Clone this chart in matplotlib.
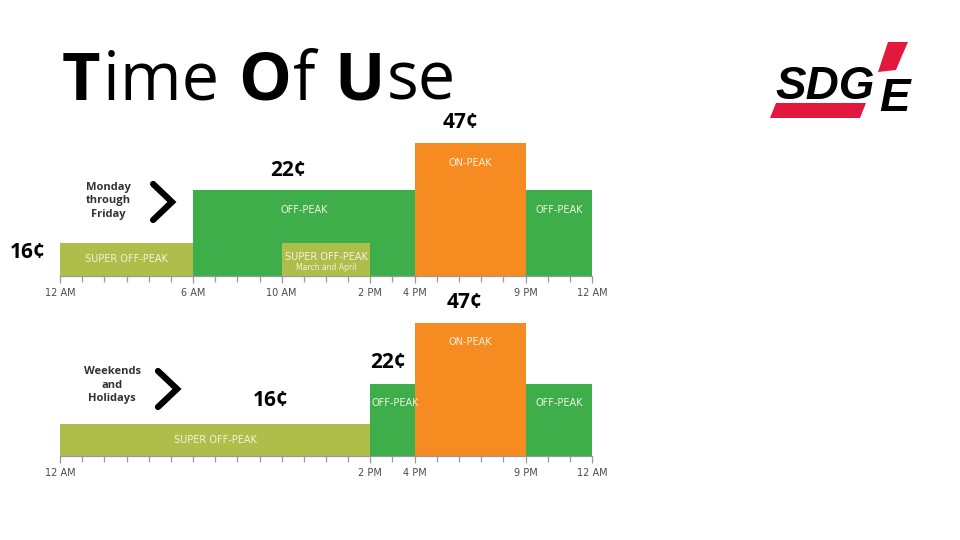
import matplotlib
matplotlib.use("Agg")
import matplotlib.pyplot as plt
from matplotlib.patches import Rectangle, Polygon

# ---------------- data ----------------
# weekday segments (hours)
wk_start = [0, 6, 16, 21]
wk_end = [6, 16, 21, 24]
wk_kind = ["super", "off", "on", "off"]
wk_height = [33, 86, 133, 86]          # bar heights in graphic units
wk_labels = ["SUPER OFF-PEAK", "OFF-PEAK", "ON-PEAK", "OFF-PEAK"]
# seasonal super off-peak window inside weekday off-peak
spring_start, spring_end, spring_height = 10, 14, 33
spring_label = "SUPER OFF-PEAK"
spring_sub = "March and April"

# weekend segments
we_start = [0, 14, 16, 21]
we_end = [14, 16, 21, 24]
we_kind = ["super", "off", "on", "off"]
we_height = [32, 72, 133, 72]
we_labels = ["SUPER OFF-PEAK", "OFF-PEAK", "ON-PEAK", "OFF-PEAK"]

wk_ticks = [0, 6, 10, 14, 16, 21, 24]
wk_ticklabels = ["12 AM", "6 AM", "10 AM", "2 PM", "4 PM", "9 PM", "12 AM"]
we_ticks = [0, 14, 16, 21, 24]
we_ticklabels = ["12 AM", "2 PM", "4 PM", "9 PM", "12 AM"]

# price annotations: (text, hour, height)
wk_prices = [("16¢", -1.45, 24), ("22¢", 10.3, 105), ("47¢", 18.05, 153)]
we_prices = [("47¢", 18.25, 154), ("22¢", 14.8, 93), ("16¢", 9.5, 55)]

colors = {"super": "#AFBE4A", "off": "#3EAE4A", "on": "#F68B21"}

COND = ["Liberation Sans Narrow", "DejaVu Sans"]
BOLD = ["Open Sans", "DejaVu Sans"]

fig = plt.figure(figsize=(9.6, 5.4), dpi=100)
fig.patch.set_facecolor("white")

W, H = 960, 540
x0, x1 = 60, 592


def make_axes(baseline_px):
    ax = fig.add_axes([x0 / W, (H - baseline_px) / H, (x1 - x0) / W, 176 / H])
    ax.set_xlim(0, 24)
    ax.set_ylim(0, 176)
    ax.patch.set_alpha(0)
    for s in ["top", "right", "left"]:
        ax.spines[s].set_visible(False)
    ax.spines["bottom"].set_color("#9A9A9A")
    ax.spines["bottom"].set_linewidth(0.9)
    ax.set_yticks([])
    ax.set_xticks(range(0, 25), minor=True)
    ax.tick_params(axis="x", which="minor", length=4, color="#9A9A9A", width=0.9)
    ax.tick_params(axis="x", which="major", length=5, color="#9A9A9A", width=0.9,
                   labelsize=7, labelcolor="#4A4A4A", pad=4)
    return ax


def draw_row(ax, starts, ends, kinds, heights, ticks, ticklabels):
    for s, e, k, h in zip(starts, ends, kinds, heights):
        ax.add_patch(Rectangle((s, 0), e - s, h, facecolor=colors[k],
                               edgecolor="none", zorder=2))
    ax.set_xticks(ticks)
    ax.set_xticklabels(ticklabels, family=COND)


# ---------- weekday ----------
ax1 = make_axes(276)
draw_row(ax1, wk_start, wk_end, wk_kind, wk_height, wk_ticks, wk_ticklabels)
ax1.add_patch(Rectangle((spring_start, 0), spring_end - spring_start, spring_height,
                        facecolor=colors["super"], edgecolor="none", zorder=3))
txtc = "#F2F2DC"
for s, e, h, lab, k in zip(wk_start, wk_end, wk_height, wk_labels, wk_kind):
    y = h / 2 if k == "super" else h - 20
    ax1.text((s + e) / 2, y, lab, ha="center", va="center", color=txtc,
             fontsize=7, family=COND, zorder=5)
ax1.text((spring_start + spring_end) / 2, 19, spring_label, ha="center", va="center",
         color=txtc, fontsize=7, family=COND, zorder=5)
ax1.text((spring_start + spring_end) / 2, 8, spring_sub, ha="center", va="center",
         color=txtc, fontsize=5.5, family=COND, zorder=5)
for t, xh, yh in wk_prices:
    ax1.text(xh, yh, t, ha="center", va="center", fontsize=15, fontweight="bold",
             family=BOLD, color="black", clip_on=False, zorder=6)
ax1.text(2.17, 75, "Monday\nthrough\nFriday", ha="center", va="center", fontsize=8,
         fontweight="bold", color="#333333", linespacing=1.35, family=BOLD)
ax1.plot([4.2, 5.05, 4.2], [92, 74, 56], color="black", lw=4.5,
         solid_joinstyle="miter", solid_capstyle="round", zorder=6)

# ---------- weekend ----------
ax2 = make_axes(456)
draw_row(ax2, we_start, we_end, we_kind, we_height, we_ticks, we_ticklabels)
for s, e, h, lab, k in zip(we_start, we_end, we_height, we_labels, we_kind):
    if k == "super":
        ax2.text((s + e) / 2, h / 2, lab, ha="center", va="center", color=txtc,
                 fontsize=7, family=COND, zorder=5)
    elif s == 14:
        ax2.text(s + 0.05, h - 19, lab, ha="left", va="center", color=txtc,
                 fontsize=7, family=COND, zorder=5)
    else:
        ax2.text((s + e) / 2, h - 19, lab, ha="center", va="center", color=txtc,
                 fontsize=7, family=COND, zorder=5)
for t, xh, yh in we_prices:
    ax2.text(xh, yh, t, ha="center", va="center", fontsize=15, fontweight="bold",
             family=BOLD, color="black", clip_on=False, zorder=6)
ax2.text(2.35, 71, "Weekends\nand\nHolidays", ha="center", va="center", fontsize=8,
         fontweight="bold", color="#333333", linespacing=1.35, family=BOLD)
ax2.plot([4.42, 5.28, 4.42], [85, 67, 49], color="black", lw=4.5,
         solid_joinstyle="miter", solid_capstyle="round", zorder=6)

# ---------- title ----------
renderer = fig.canvas.get_renderer()
parts = [("T", "bold"), ("ime ", "normal"), ("O", "bold"), ("f ", "normal"),
         ("U", "bold"), ("se", "normal")]
xpos = 62
TITLE_FONT = ["Open Sans", "DejaVu Sans"]
for txt, wt in parts:
    t = fig.text(xpos / W, 1 - 100 / H, txt, fontsize=48, fontweight=wt,
                 family=TITLE_FONT, color="black", ha="left", va="baseline")
    bb = t.get_window_extent(renderer=renderer)
    xpos += bb.width + 2

# ---------- logo ----------
lax = fig.add_axes([0, 0, 1, 1])
lax.set_xlim(0, W)
lax.set_ylim(H, 0)
lax.axis("off")
red = "#E2183D"
lax.add_patch(Polygon([(776, 103), (866, 103), (860, 118), (770, 118)],
                      closed=True, facecolor=red, edgecolor="none"))
lax.add_patch(Polygon([(888, 42), (908, 42), (901, 58), (896, 70), (878, 72), (884, 54)],
                      closed=True, facecolor=red, edgecolor="none"))
LOGO_FONT = ["Liberation Sans", "DejaVu Sans"]
lax.text(775, 99, "SDG", fontsize=33, fontweight="bold", style="italic",
         family=LOGO_FONT, color="black", ha="left", va="baseline")
lax.text(879, 111, "E", fontsize=33, fontweight="bold", style="italic",
         family=LOGO_FONT, color="black", ha="left", va="baseline")

fig.savefig("out.png", dpi=100)
